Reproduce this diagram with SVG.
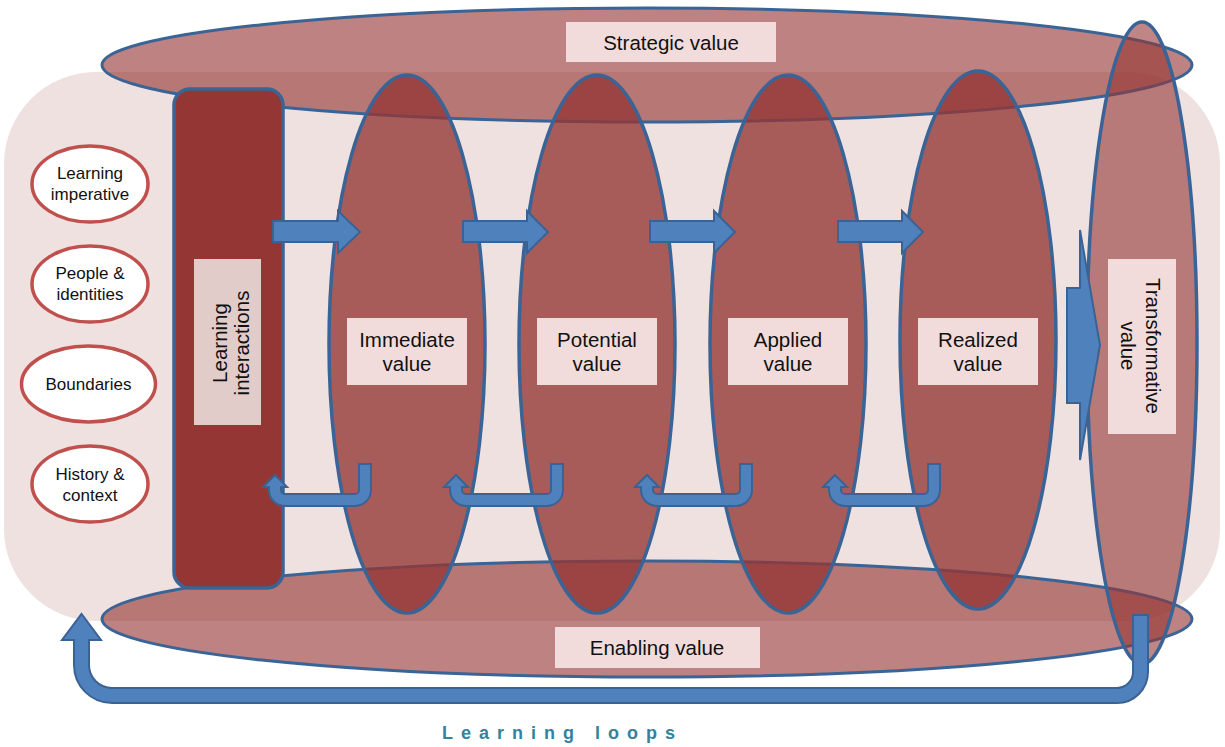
<svg xmlns="http://www.w3.org/2000/svg" width="1225" height="747" viewBox="0 0 1225 747">
<defs>
<style>
.bg{fill:#eee1e0}
.band{fill:#943634;fill-opacity:0.62;stroke:#3b6496;stroke-width:3}
.stage{fill:#943634;fill-opacity:0.78;stroke:#3b6496;stroke-width:3.5}
.tstage{fill:#943634;fill-opacity:0.6;stroke:#3b6496;stroke-width:3.5}
.bar{fill:#943634;stroke:#3b6496;stroke-width:3.5}
.lbl{fill:#f2dcdb}
.lbl2{fill:#e2ccc9}
.arr{fill:#4f81bd;stroke:#3a6394;stroke-width:2}
.fac{fill:#fff;stroke:#c0504d;stroke-width:3.5}
text{font-family:"Liberation Sans",Arial,sans-serif;fill:#111;text-anchor:middle}
.t17{font-size:17px}
.t20{font-size:20.5px}
.loop{font-size:18px;font-weight:bold;fill:#31849b;letter-spacing:8px;text-anchor:start}
</style>
</defs>
<rect class="bg" x="4" y="72" width="1216" height="549" rx="92"/>
<g id="strategic">
<ellipse class="band" cx="647" cy="65" rx="545" ry="57"/>
</g>
<g id="enabling">
<ellipse class="band" cx="647" cy="619" rx="545" ry="58"/>
</g>
<g id="learning-interactions">
<rect class="bar" x="174" y="89" width="109" height="499" rx="16"/>
<rect class="lbl2" x="194" y="259" width="67" height="166"/>
<text class="t20" transform="translate(227,343) rotate(-90)"><tspan x="0" y="0">Learning</tspan><tspan x="0" y="22">interactions</tspan></text>
</g>
<g id="immediate"><ellipse class="stage" cx="407" cy="344" rx="78" ry="269"/></g>
<g id="potential"><ellipse class="stage" cx="597" cy="344" rx="78" ry="269"/></g>
<g id="applied"><ellipse class="stage" cx="788" cy="344" rx="78" ry="269"/></g>
<g id="realized"><ellipse class="stage" cx="978" cy="340" rx="78" ry="269"/></g>
<g id="transformative"><ellipse class="tstage" cx="1142" cy="343" rx="55" ry="321"/></g>
<g id="connectors">
<polygon class="arr" points="273,221 338,221 338,211 360,232 338,253 338,242 273,242"/>
<polygon class="arr" points="463,221 527,221 527,211 548,232 527,253 527,242 463,242"/>
<polygon class="arr" points="650,221 714,221 714,211 735,232 714,253 714,242 650,242"/>
<polygon class="arr" points="838,221 902,221 902,211 923,232 902,253 902,242 838,242"/>
<polygon class="arr" points="1067,288 1080,288 1080,230 1100,345 1080,460 1080,403 1067,403"/>
<path class="arr" d="M371,464 V490 A16 16 0 0 1 355,506 H285 A16 16 0 0 1 269,490 V487 H263 L275,475 L287,487 H281 V490 A4 4 0 0 0 285,494 H355 A4 4 0 0 0 359,490 V464 Z"/>
<path class="arr" d="M563,464 V490 A16 16 0 0 1 547,506 H466 A16 16 0 0 1 450,490 V487 H444 L456,475 L468,487 H462 V490 A4 4 0 0 0 466,494 H547 A4 4 0 0 0 551,490 V464 Z"/>
<path class="arr" d="M752,464 V490 A16 16 0 0 1 736,506 H657 A16 16 0 0 1 641,490 V487 H635 L647,475 L659,487 H653 V490 A4 4 0 0 0 657,494 H736 A4 4 0 0 0 740,490 V464 Z"/>
<path class="arr" d="M940,464 V490 A16 16 0 0 1 924,506 H845 A16 16 0 0 1 829,490 V487 H823 L835,475 L847,487 H841 V490 A4 4 0 0 0 845,494 H924 A4 4 0 0 0 928,490 V464 Z"/>
<path class="arr" d="M1148,615 V672 A31 31 0 0 1 1117,703 H112 A38 38 0 0 1 74,665 V640 H62 L81.5,614 L101,640 H89 V665 A23 23 0 0 0 112,688 H1117 A16 16 0 0 0 1133,672 V615 Z"/>
</g>
<g id="labels">
<rect class="lbl" x="566" y="22" width="210" height="40"/>
<text class="t20" x="671" y="50">Strategic value</text>
<rect class="lbl" x="555" y="627" width="205" height="41"/>
<text class="t20" x="657" y="655">Enabling value</text>
<rect class="lbl" x="347" y="318" width="120" height="67"/>
<text class="t20" x="407" y="347">Immediate</text><text class="t20" x="407" y="371">value</text>
<rect class="lbl" x="537" y="318" width="120" height="67"/>
<text class="t20" x="597" y="347">Potential</text><text class="t20" x="597" y="371">value</text>
<rect class="lbl" x="728" y="318" width="120" height="67"/>
<text class="t20" x="788" y="347">Applied</text><text class="t20" x="788" y="371">value</text>
<rect class="lbl" x="918" y="318" width="120" height="67"/>
<text class="t20" x="978" y="347">Realized</text><text class="t20" x="978" y="371">value</text>
<rect class="lbl" x="1108" y="259" width="68" height="175"/>
<text class="t20" transform="translate(1146,346) rotate(90)"><tspan x="0" y="0">Transformative</tspan><tspan x="0" y="25">value</tspan></text>
</g>
<g id="learning-imperative">
<ellipse class="fac" cx="90" cy="184" rx="58" ry="38"/>
<text class="t17" x="90" y="179">Learning</text><text class="t17" x="90" y="200">imperative</text>
</g>
<g id="people-identities">
<ellipse class="fac" cx="90" cy="284" rx="58" ry="38"/>
<text class="t17" x="90" y="279">People &amp;</text><text class="t17" x="90" y="300">identities</text>
</g>
<g id="boundaries">
<ellipse class="fac" cx="88.5" cy="384" rx="67" ry="38"/>
<text class="t17" x="88.5" y="390">Boundaries</text>
</g>
<g id="history-context">
<ellipse class="fac" cx="90" cy="484" rx="58" ry="38"/>
<text class="t17" x="90" y="480">History &amp;</text><text class="t17" x="90" y="501">context</text>
</g>
<text class="loop" x="442" y="739">Learning loops</text>
</svg>
